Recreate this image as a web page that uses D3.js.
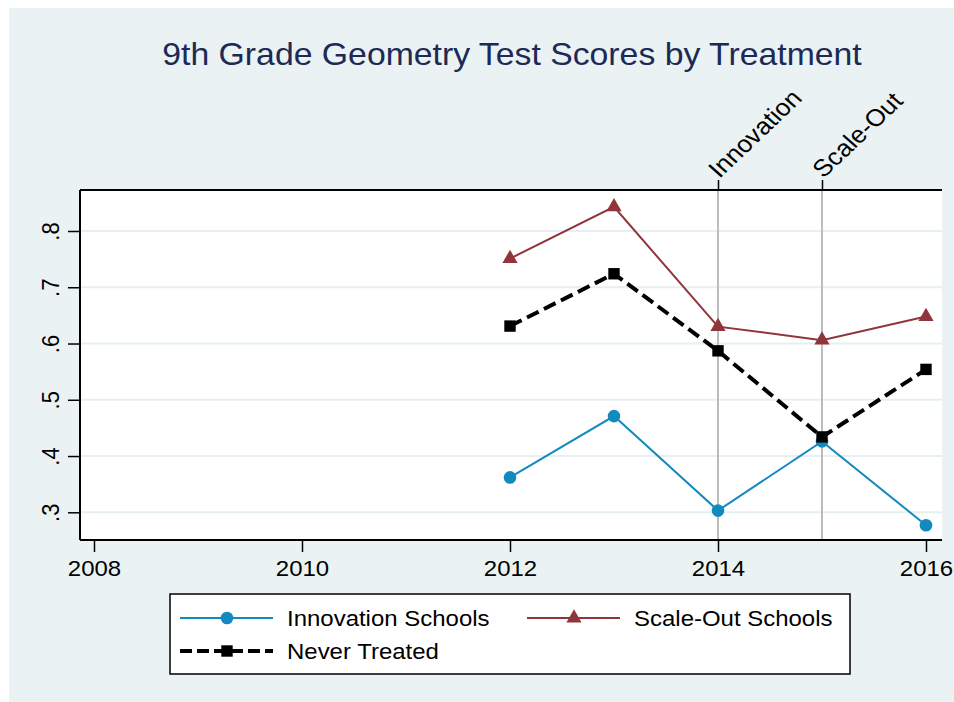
<!DOCTYPE html>
<html>
<head>
<meta charset="utf-8">
<script src="https://cdn.jsdelivr.net/npm/d3@7"></script>
<style>
    body { margin: 0; background: #ffffff; }
    svg { display: block; font-family: "Liberation Sans", Arial, sans-serif; }
</style>
</head>
<body>
<div id="chart"></div>
<script>
// Data
const years = [2012, 2013, 2014, 2015, 2016];
const innovation = [0.362, 0.471, 0.303, 0.426, 0.277];
const scaleOut = [0.751, 0.843, 0.630, 0.606, 0.648];
const neverTreated = [0.631, 0.724, 0.587, 0.434, 0.554];

const xTicks = [2008, 2010, 2012, 2014, 2016];
const yTicks = [0.3, 0.4, 0.5, 0.6, 0.7, 0.8];
const eventYears = [2014, 2015];
const eventLabels = ["Innovation", "Scale-Out"];

const title = "9th Grade Geometry Test Scores by Treatment";

const width = 954, height = 702;
// Stata output is a little wider than tall, so text gets a horizontal stretch
const SX = 1.09;

const colors = { innovation: "#128ac0", scaleOut: "#90353b", never: "#000000" };

const svg = d3.select("#chart").append("svg")
    .attr("width", width)
    .attr("height", height);

// Outer background
svg.append("rect")
    .attr("x", 9).attr("y", 8)
    .attr("width", width - 9).attr("height", height - 8)
    .attr("fill", "#eaf2f3");

// Plot region
const plot = { left: 80, right: 942, top: 190, bottom: 540 };

svg.append("rect")
    .attr("x", plot.left).attr("y", plot.top)
    .attr("width", plot.right - plot.left).attr("height", plot.bottom - plot.top)
    .attr("fill", "#ffffff");

const x = d3.scaleLinear().domain([2008, 2016]).range([94, 926]);
const y = d3.scaleLinear().domain([0.3, 0.8]).range([512.3, 231]);

function place(sel, px, py, rot) {
    sel.attr("x", 0).attr("y", 0).attr("dy", null)
        .attr("transform", `translate(${px},${py}) scale(${SX},1)` + (rot ? ` rotate(${rot})` : ""));
}

// Horizontal gridlines
svg.append("g")
    .selectAll("line")
    .data(yTicks)
    .join("line")
        .attr("x1", plot.left).attr("x2", plot.right)
        .attr("y1", d => y(d)).attr("y2", d => y(d))
        .attr("stroke", "#e6eff1")
        .attr("stroke-width", 2);

// Vertical event lines
svg.append("g")
    .selectAll("line")
    .data(eventYears)
    .join("line")
        .attr("x1", d => x(d)).attr("x2", d => x(d))
        .attr("y1", plot.top).attr("y2", plot.bottom)
        .attr("stroke", "#bcbcbc")
        .attr("stroke-width", 2);

// Y axis
const yAxis = svg.append("g")
    .attr("transform", `translate(${plot.left},0)`)
    .call(d3.axisLeft(y).tickValues(yTicks).tickSize(12).tickSizeOuter(0)
        .tickFormat(d => d3.format(".1f")(d).replace(/^0/, "")));
yAxis.select(".domain").remove();
yAxis.selectAll(".tick line").attr("stroke", "#000").attr("stroke-width", 1.5);
yAxis.selectAll(".tick text")
    .attr("fill", "#000")
    .attr("font-size", 22)
    .attr("text-anchor", "middle")
    .each(function() { place(d3.select(this), -21, 0, -90); });

// X axis
const xAxis = svg.append("g")
    .attr("transform", `translate(0,${plot.bottom})`)
    .call(d3.axisBottom(x).tickValues(xTicks).tickSize(12).tickSizeOuter(0).tickFormat(d3.format("d")));
xAxis.select(".domain").remove();
xAxis.selectAll(".tick line").attr("stroke", "#000").attr("stroke-width", 1.5);
xAxis.selectAll(".tick text")
    .attr("fill", "#000")
    .attr("font-size", 22)
    .attr("text-anchor", "middle")
    .each(function() { place(d3.select(this), 0, 36); });

// Top axis with event labels
const topAxis = svg.append("g")
    .attr("transform", `translate(0,${plot.top})`)
    .call(d3.axisTop(x).tickValues(eventYears).tickSize(10).tickSizeOuter(0)
        .tickFormat((d, i) => eventLabels[i]));
topAxis.select(".domain").remove();
topAxis.selectAll(".tick line").attr("stroke", "#000").attr("stroke-width", 1.5);
topAxis.selectAll(".tick text")
    .attr("fill", "#000")
    .attr("font-size", 24)
    .attr("text-anchor", "start")
    .each(function() { d3.select(this).attr("x", 0).attr("y", 0).attr("dy", null)
        .attr("transform", `translate(1,-11) scale(${SX},1) rotate(-46)`); });

// Plot frame: top, left, bottom
const frame = svg.append("g").attr("stroke", "#000").attr("stroke-width", 2);
frame.append("line").attr("x1", plot.left).attr("x2", plot.right).attr("y1", plot.top).attr("y2", plot.top);
frame.append("line").attr("x1", plot.left).attr("x2", plot.right).attr("y1", plot.bottom).attr("y2", plot.bottom);
frame.append("line").attr("x1", plot.left).attr("x2", plot.left).attr("y1", plot.top).attr("y2", plot.bottom);

// Series
const series = [
    { name: "Innovation Schools", values: innovation, color: colors.innovation, width: 2, dash: null,
      symbol: d3.symbolCircle, size: 125 },
    { name: "Scale-Out Schools", values: scaleOut, color: colors.scaleOut, width: 2, dash: null,
      symbol: d3.symbolTriangle, size: 100 },
    { name: "Never Treated", values: neverTreated, color: colors.never, width: 4, dash: "13,6",
      symbol: d3.symbolSquare, size: 130 }
];

const line = d3.line()
    .x((d, i) => x(years[i]))
    .y(d => y(d));

series.forEach(s => {
    svg.append("path")
        .datum(s.values)
        .attr("d", line)
        .attr("fill", "none")
        .attr("stroke", s.color)
        .attr("stroke-width", s.width)
        .attr("stroke-dasharray", s.dash);

    svg.append("g")
        .selectAll("path")
        .data(s.values)
        .join("path")
            .attr("transform", (d, i) => `translate(${x(years[i])},${y(d)})`)
            .attr("d", d3.symbol().type(s.symbol).size(s.size))
            .attr("fill", s.color);
});

// Title
svg.append("text")
    .attr("fill", "#1c2a55")
    .attr("font-size", 31)
    .attr("text-anchor", "middle")
    .text(title)
    .call(place, 512, 65);

// Legend
const legend = svg.append("g");
legend.append("rect")
    .attr("x", 170).attr("y", 594)
    .attr("width", 680).attr("height", 80)
    .attr("fill", "#ffffff")
    .attr("stroke", "#000")
    .attr("stroke-width", 1.5);

const legendPos = [
    { x: 180, y: 618 },
    { x: 527, y: 618 },
    { x: 180, y: 651 }
];

series.forEach((s, i) => {
    const p = legendPos[i];
    legend.append("line")
        .attr("x1", p.x).attr("x2", p.x + 93)
        .attr("y1", p.y).attr("y2", p.y)
        .attr("stroke", s.color)
        .attr("stroke-width", s.width)
        .attr("stroke-dasharray", s.dash ? "12,5" : null);
    legend.append("path")
        .attr("transform", `translate(${p.x + 47},${p.y})`)
        .attr("d", d3.symbol().type(s.symbol).size(s.size))
        .attr("fill", s.color);
    legend.append("text")
        .attr("fill", "#000")
        .attr("font-size", 22)
        .text(s.name)
        .call(place, p.x + 107, p.y + 8);
});
</script>
</body>
</html>
